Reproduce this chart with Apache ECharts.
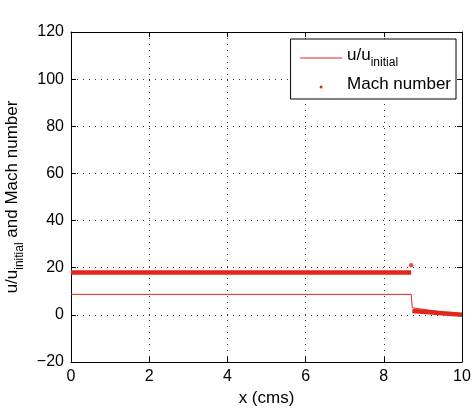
<!DOCTYPE html>
<html>
<head>
<meta charset="utf-8">
<script src="https://cdn.jsdelivr.net/npm/echarts@6/dist/echarts.min.js"></script>
<style>
  html, body { margin: 0; padding: 0; background: #fff; }
  #chart { width: 473px; height: 408px; }
</style>
</head>
<body>
<div id="chart"></div>
<script>
// values
const xTicks = [0, 2, 4, 6, 8, 10];
const yTicks = [-20, 0, 20, 40, 60, 80, 100, 120];

// u/u_initial profile
const uX = [0, 8.7, 8.73, 10];
const uY = [8.7, 8.7, 3.0, 0];

// Mach number: dense dots, drawn as a thick band before and after the jump
const machBandX = [0, 8.7, null, 8.73, 8.76, 10];
const machBandY = [18, 18, null, 1.6, 0.9, 0];
const machDotX = [8.7];
const machDotY = [21];

const red = '#e2261c';
const font = 'Liberation Sans, Arial, sans-serif';

const pairs = (xs, ys) => xs.map((x, i) => (x === null ? [null, null] : [x, ys[i]]));

const richSub = {
    a: { fontSize: 17, color: '#000', fontFamily: font, verticalAlign: 'top', lineHeight: 22 },
    s: { fontSize: 12, color: '#000', fontFamily: font, verticalAlign: 'bottom', lineHeight: 22, padding: [9, 0, 0, 0] },
};

const chart = echarts.init(document.getElementById('chart'));

const baseX = {
    type: 'value',
    min: 0,
    max: 10,
    interval: 2,
    axisLine: { onZero: false, lineStyle: { color: '#000', width: 1 } },
    axisTick: { inside: true, length: 5, lineStyle: { color: '#000' } },
};
const baseY = {
    type: 'value',
    min: -20,
    max: 120,
    interval: 20,
    axisLine: { onZero: false, lineStyle: { color: '#000', width: 1 } },
    axisTick: { inside: true, length: 5, lineStyle: { color: '#000' } },
};

chart.setOption({
    animation: false,
    textStyle: { fontFamily: font },
    grid: { left: 71, right: 11, top: 32, bottom: 46, outerBoundsMode: 'none', containLabel: false },
    legend: {
        orient: 'vertical',
        right: 17,
        top: 39,
        padding: [8, 5, 6, 9],
        borderColor: '#000',
        borderWidth: 1,
        backgroundColor: '#fff',
        itemWidth: 42,
        itemHeight: 3,
        itemGap: 7,
        data: [
            { name: 'u/u_initial', itemStyle: { color: 'transparent', borderWidth: 0 }, lineStyle: { color: red, width: 1 } },
            { name: 'Mach number', icon: 'circle', itemStyle: { color: red } },
        ],
        formatter: (name) => (name === 'u/u_initial' ? '{a|u/u}{s|initial}' : '{a|' + name + '}'),
        textStyle: { fontFamily: font, color: '#000', rich: richSub },
    },
    xAxis: [
        Object.assign({}, baseX, {
            position: 'bottom',
            name: 'x (cms)',
            nameLocation: 'middle',
            nameGap: 25,
            nameTextStyle: { fontSize: 17, color: '#000', fontFamily: font },
            axisLabel: { fontSize: 16, color: '#000', margin: 7, fontFamily: font },
            splitLine: { show: true, lineStyle: { color: '#333', type: [1, 5], width: 1 } },
            data: xTicks,
        }),
        Object.assign({}, baseX, {
            position: 'top',
            axisLabel: { show: false },
            splitLine: { show: false },
        }),
    ],
    yAxis: [
        Object.assign({}, baseY, {
            position: 'left',
            name: '{a|u/u}{s|initial}{a| and Mach number}',
            nameLocation: 'middle',
            nameGap: 42,
            nameRotate: 90,
            nameTextStyle: { fontFamily: font, rich: richSub },
            axisLabel: { fontSize: 16, color: '#000', margin: 7, fontFamily: font,
                formatter: (v) => (v < 0 ? '\u2212' + Math.abs(v) : String(v)) },
            splitLine: { show: true, lineStyle: { color: '#333', type: [1, 5], width: 1 } },
            data: yTicks,
        }),
        Object.assign({}, baseY, {
            position: 'right',
            axisLabel: { show: false },
            splitLine: { show: false },
        }),
    ],
    series: [
        {
            name: 'u/u_initial',
            type: 'line',
            symbol: 'none',
            data: pairs(uX, uY),
            lineStyle: { color: red, width: 1 },
            itemStyle: { color: red },
            z: 3,
        },
        {
            name: 'Mach number',
            type: 'line',
            symbol: 'none',
            connectNulls: false,
            data: pairs(machBandX, machBandY),
            lineStyle: { color: red, width: 4.5 },
            itemStyle: { color: red },
            z: 4,
        },
        {
            name: 'Mach number',
            type: 'scatter',
            symbol: 'circle',
            symbolSize: 4.5,
            data: pairs(machDotX, machDotY),
            itemStyle: { color: red },
            z: 4,
        },
    ],
});
</script>
</body>
</html>
